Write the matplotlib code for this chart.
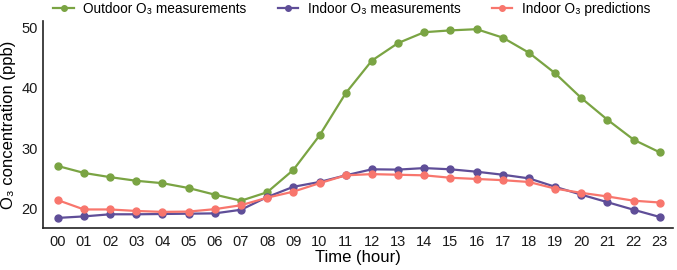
import numpy as np
import matplotlib
matplotlib.use("Agg")
from matplotlib import pyplot as plt

plt.rcParams['font.family'] = ['Liberation Sans', 'DejaVu Sans']

hours = ['00', '01', '02', '03', '04', '05', '06', '07', '08', '09', '10', '11',
         '12', '13', '14', '15', '16', '17', '18', '19', '20', '21', '22', '23']

outdoor = [27.05, 25.9, 25.2, 24.6, 24.2, 23.4, 22.3, 21.3, 22.7, 26.4, 32.1, 39.1,
           44.5, 47.4, 49.2, 49.5, 49.7, 48.3, 45.8, 42.4, 38.3, 34.7, 31.4, 29.3]
indoor_meas = [18.45, 18.7, 19.05, 19.05, 19.1, 19.15, 19.2, 19.8, 21.9, 23.6, 24.4, 25.5,
               26.5, 26.45, 26.7, 26.5, 26.1, 25.6, 25.0, 23.6, 22.3, 21.05, 19.8, 18.6]
indoor_pred = [21.4, 19.85, 19.85, 19.6, 19.45, 19.5, 19.9, 20.55, 21.8, 22.8, 24.2, 25.5,
               25.7, 25.6, 25.5, 25.1, 24.9, 24.7, 24.4, 23.3, 22.6, 22.0, 21.3, 21.0]

x = np.arange(len(hours))

fig = plt.figure(figsize=(6.77, 2.70), dpi=100)
ax = fig.add_axes([0.064, 0.156, 0.93, 0.765])

ax.plot(x, outdoor, color='#7aa443', marker='o', markersize=5, lw=1.6,
        label='Outdoor O\u2083 measurements')
ax.plot(x, indoor_meas, color='#5f4e98', marker='o', markersize=5, lw=1.6,
        label='Indoor O\u2083 measurements')
ax.plot(x, indoor_pred, color='#f8766d', marker='o', markersize=5, lw=1.6,
        label='Indoor O\u2083 predictions')

ax.set_xlim(-0.55, 23.5)
ax.set_ylim(16.8, 51)
ax.set_xticks(x)
ax.set_xticklabels(hours)
ax.set_yticks([20, 30, 40, 50])
ax.tick_params(length=0, labelsize=10.5, colors='#1a1a1a')
ax.tick_params(axis='x', pad=5)
ax.tick_params(axis='y', pad=4)

for s in ['top', 'right']:
    ax.spines[s].set_visible(False)
for s in ['left', 'bottom']:
    ax.spines[s].set_color('#222222')
    ax.spines[s].set_linewidth(1.2)

ax.set_xlabel('Time (hour)', fontsize=12, labelpad=1)
ax.set_ylabel('O\u2083 concentration (ppb)', fontsize=12, labelpad=4)

ax.legend(loc='lower center', bbox_to_anchor=(0.49, 1.0), ncol=3, frameon=False,
          fontsize=9.8, handlelength=1.5, markerscale=0.8, columnspacing=2.3,
          handletextpad=0.7, borderaxespad=0)

fig.savefig('out.png', dpi=100)
